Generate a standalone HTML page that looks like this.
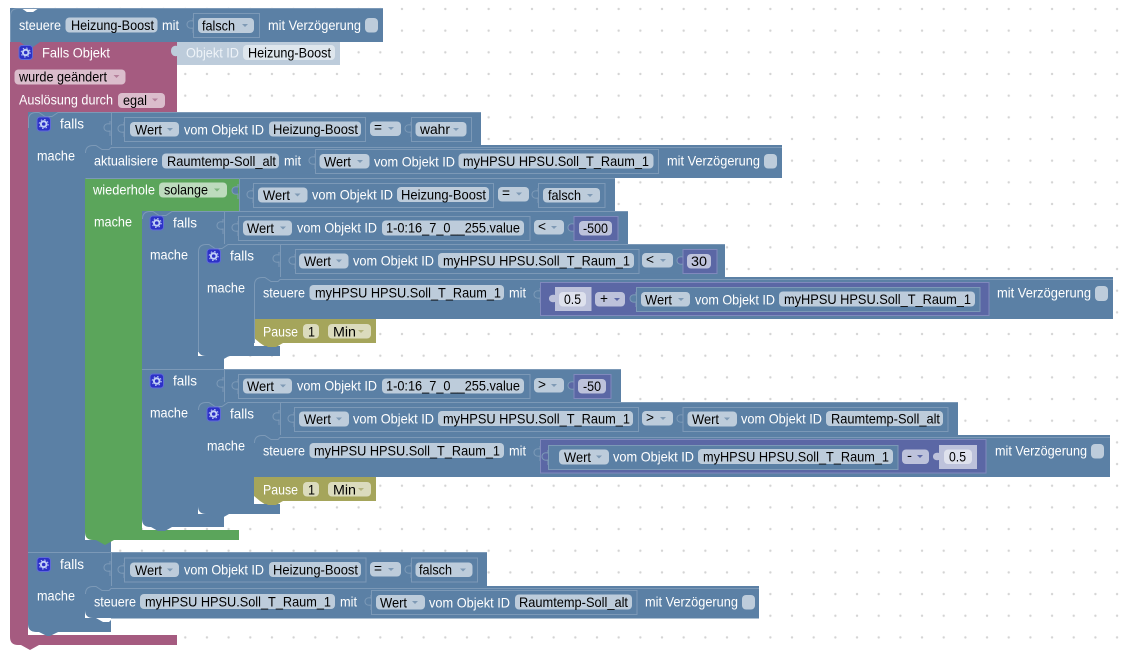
<!DOCTYPE html>
<html><head><meta charset="utf-8"><style>
html,body{margin:0;padding:0;background:#fff;width:1126px;height:653px;overflow:hidden}
svg{display:block}
text{font-family:"Liberation Sans",Arial,sans-serif;font-size:14px;fill:#000;white-space:pre}
.t{fill:#fff}
.o{fill:#eef3f8}
.b{fill:#5b80a5}.g{fill:#5ba55b}.m{fill:#a55b80}.y{fill:#a5a55b}.p{fill:#5b67a5}
.f{fill:#bdccdb}.fg{fill:#bddbbd}.fm{fill:#dbbdcc}.fy{fill:#dbdbbd}.fp{fill:#bdc2db}.fl{fill:#dee1ed}
.v{fill:#5b80a5;stroke:#7c99b7;stroke-width:1}
.vp{fill:#5b67a5;stroke:#8089bd;stroke-width:1}
.l{fill:none;stroke:#7c99b7;stroke-width:1}
.w{fill:#fff}
.tab{stroke:#7c99b7;stroke-width:1}
.ab{fill:#7f9ab5}.ag{fill:#7fb57f}.am{fill:#b5819c}.ay{fill:#b5b57f}
</style></head><body>
<svg width="1126" height="653" viewBox="0 0 1126 653" xmlns="http://www.w3.org/2000/svg">
<defs>
<pattern id="dots" x="1.07" y="-1.83" width="21.67" height="21.67" patternUnits="userSpaceOnUse"><circle cx="10.83" cy="10.83" r="1.2" fill="#d4d4d4"/></pattern>
<path id="tab" d="M0 0V3C-8 1-8 12 0 10V15"/>
<path id="ar" d="M0 0h6l-3 3z"/>
<g id="ic"><rect x=".5" y=".5" width="13.500" height="14" rx="3" fill="#2c31c7" stroke="#5f6bd8"/><circle cx="7.200" cy="7.500" r="2.800" fill="none" stroke="#c2d0f7" stroke-width="2"/><circle cx="7.200" cy="7.500" r="4.500" fill="none" stroke="#c2d0f7" stroke-width="1" stroke-dasharray="1.400 2.200"/></g>
</defs>
<rect width="1126" height="653" fill="#fff"/>
<rect width="1126" height="653" fill="url(#dots)"/>

<!-- maroon trigger -->
<path class="m" d="M10 42H177V112H28V635H177V645H39L30 650 21 645H18Q10 645 10 637Z"/>
<!-- Objekt ID -->
<rect x="177" y="42" width="163" height="23" class="f"/>
<path d="M177 46C169 44 169 58 177 56Z" class="f"/>
<rect x="243" y="45" width="92" height="15" rx="4" fill="#dee6ed"/>
<!-- steuere top -->
<path class="b" d="M10 8H21L27 12H33L39 8H383V42H40L33 47H27L20 42H10Z"/>
<path class="w" d="M22 8L27 12H33L38 8Z"/>

<!-- falls A -->
<rect class="b" x="28" y="112" width="453" height="33"/>
<rect class="b" x="28" y="112" width="57" height="440"/>
<rect class="b" x="85" y="145" width="26" height="407"/>
<!-- aktualisiere -->
<rect class="b" x="85" y="145" width="697" height="33"/>
<!-- green loop -->
<rect class="b" x="239" y="178" width="376" height="33"/>
<path class="g" d="M85 178H239V211H142V530H239V540H114L105 545 96 540H93Q85 540 85 532Z"/>
<path class="w" d="M85 532Q85 540 93 540H85Z"/>
<!-- falls C -->
<rect class="b" x="142" y="211" width="486" height="33"/>
<rect class="b" x="142" y="211" width="56" height="316"/>
<rect class="b" x="198" y="244" width="26" height="283"/>
<rect class="b" x="142" y="369" width="479" height="33"/>
<path class="b" d="M142 520V519Q142 527 150 527H151L158 531H165L172 527H224V520Z"/>
<path class="w" d="M142 519Q142 527 150 527H142Z"/>
<!-- falls D -->
<rect class="b" x="198" y="244" width="527" height="33"/>
<rect class="b" x="198" y="244" width="56" height="108"/>
<rect class="b" x="254" y="277" width="26" height="79"/>
<path class="b" d="M198 348Q198 356 206 356H209L216 360H222L229 356H280V345H198Z"/>
<path class="w" d="M198 348Q198 356 206 356H198Z"/>
<!-- steuere D -->
<rect class="b" x="254" y="277" width="859" height="42"/>
<!-- pause D -->
<path class="w" d="M254 319H280V346H254Z"/>
<path class="y" d="M254 319H376V343H282L276 347H266L260 343 254 338Z"/>
<path class="b" d="M254 346H280V356H254Z"/>
<path class="y" d="M262 343H283L276 347H268Z"/>
<!-- falls D2 -->
<rect class="b" x="198" y="402" width="760" height="33"/>
<rect class="b" x="198" y="402" width="56" height="108"/>
<rect class="b" x="254" y="435" width="26" height="79"/>
<path class="b" d="M198 506Q198 514 206 514H209L216 518H222L229 514H280V503H198Z"/>
<path class="w" d="M198 506Q198 514 206 514H198Z"/>
<!-- steuere E -->
<rect class="b" x="254" y="435" width="856" height="42"/>
<!-- pause E -->
<path class="w" d="M254 477H280V504H254Z"/>
<path class="y" d="M254 477H376V501H282L276 505H266L260 501 254 496Z"/>
<path class="b" d="M254 504H280V514H254Z"/>
<path class="y" d="M262 501H283L276 505H268Z"/>

<!-- falls B -->
<rect class="b" x="28" y="552" width="459" height="34"/>
<rect class="b" x="28" y="552" width="57" height="76"/>
<rect class="b" x="85" y="586" width="26" height="33"/>
<rect class="b" x="85" y="586" width="674" height="32.500"/>
<path class="w" d="M85 618H111V622.500H85Z"/>
<path class="b" d="M85 610Q85 618 93 618H96L103 622H109L111 620V623H85Z"/>
<path class="w" d="M85 610Q85 618 93 618H85Z"/>
<path class="b" d="M28 622H111V632H58L49 636 40 632H36Q28 632 28 624Z"/>
<path class="w" d="M28 624Q28 632 36 632H28Z"/>
<path class="w" d="M28 632H39L48 636 58 632H177V635H28Z"/>
<path class="b" d="M39 632H58L50 636H47Z"/>

<!-- light edges -->
<path class="l" d="M28.500 128V120Q28.500 112.500 36 112.500H39L45 116.500H52L58 112.500H481"/>
<path class="l" d="M111.500 112.500V145"/>
<path class="l" d="M85.500 153Q85.500 145.500 93 145.500H96L102 149.500H109L111 147.500H782M85.500 178.500H239"/>
<path class="l" d="M239.500 178.500H615M239.500 178.500V211"/>
<path class="l" d="M142.500 219Q142.500 211.500 150 211.500H153L159 215.500H166L172 211.500H628M224.500 211.500V244"/>
<path class="l" d="M198.500 252Q198.500 244.500 206 244.500H209L215 248.500H222L228 244.500H725M280.500 244.500V277"/>
<path class="l" d="M254.500 285Q254.500 277.500 262 277.500H265L271 281.500H278L280 279.500H1113"/>
<path class="l" d="M142 369.500H621M224.500 369.500V402"/>
<path class="l" d="M198.500 410Q198.500 402.500 206 402.500H209L215 406.500H222L228 402.500H958M280.500 402.500V435"/>
<path class="l" d="M254.500 443Q254.500 435.500 262 435.500H265L271 439.500H278L280 437.500H1110"/>
<path class="l" d="M28 552.500H487M111.500 552.500V586"/>
<path class="l" d="M85.500 594Q85.500 586.500 93 586.500H96L102 590.500H109L111 588.500H759"/>
<path class="l" d="M198.500 352V252"/>
<path class="l" d="M254.500 343V285"/>
<path d="M10.500 42V16Q10.500 8.500 18 8.500H383" fill="none" stroke="#7c99b7"/>

<!-- ===== row 0 ===== -->
<text class="t" x="19" y="30" textLength="42" lengthAdjust="spacingAndGlyphs">steuere</text>
<rect class="f" x="65.500" y="17.500" width="92" height="15" rx="4"/><text x="71" y="30" textLength="83" lengthAdjust="spacingAndGlyphs">Heizung-Boost</text>
<text class="t" x="162" y="30" textLength="17" lengthAdjust="spacingAndGlyphs">mit</text>
<use href="#tab" x="193" y="18" class="b tab"/>
<rect class="v" x="193.500" y="13.500" width="66" height="24"/>
<rect class="f" x="198" y="18" width="56" height="15" rx="4"/><text x="202" y="30.500" textLength="33" lengthAdjust="spacingAndGlyphs">falsch</text><use href="#ar" x="242" y="24" class="ab"/>
<text class="t" x="268" y="30" textLength="93" lengthAdjust="spacingAndGlyphs">mit Verzögerung</text>
<rect class="f" x="365" y="18" width="13" height="14.500" rx="4"/>

<!-- trigger -->
<use href="#ic" x="18.500" y="45"/>
<text class="t" x="42" y="57.500" textLength="68" lengthAdjust="spacingAndGlyphs">Falls Objekt</text>
<text class="o" x="186" y="57.500" textLength="53" lengthAdjust="spacingAndGlyphs">Objekt ID</text>
<text x="248" y="57.500" textLength="83" lengthAdjust="spacingAndGlyphs">Heizung-Boost</text>
<rect class="fm" x="14.500" y="69.500" width="111" height="15" rx="4"/><text x="19" y="81.500" textLength="88" lengthAdjust="spacingAndGlyphs">wurde geändert</text><use href="#ar" x="113.500" y="75" class="am"/>
<text class="t" x="19" y="104.500" textLength="94" lengthAdjust="spacingAndGlyphs">Auslösung durch</text>
<rect class="fm" x="118" y="93" width="47" height="15" rx="4"/><text x="123" y="105" textLength="24" lengthAdjust="spacingAndGlyphs">egal</text><use href="#ar" x="152" y="98.500" class="am"/>

<!-- ===== falls A row ===== -->
<use href="#ic" x="36.500" y="116.500"/>
<text class="t" x="60" y="128.500" textLength="24" lengthAdjust="spacingAndGlyphs">falls</text>
<text class="t" x="37" y="160.500" textLength="38" lengthAdjust="spacingAndGlyphs">mache</text>
<use href="#tab" x="110" y="121" class="b tab"/>
<use href="#tab" x="124" y="122" class="b tab"/>
<rect class="v" x="124.500" y="117.500" width="241" height="24"/>
<rect class="f" x="130" y="122" width="49" height="14.500" rx="4"/><text x="135" y="134.500" textLength="27" lengthAdjust="spacingAndGlyphs">Wert</text><use href="#ar" x="167" y="128" class="ab"/>
<text class="t" x="184" y="134.500" textLength="80" lengthAdjust="spacingAndGlyphs">vom Objekt ID</text>
<rect class="f" x="269" y="121.500" width="92" height="15" rx="4"/><text x="273" y="134" textLength="85" lengthAdjust="spacingAndGlyphs">Heizung-Boost</text>
<rect class="f" x="370" y="121.500" width="31" height="14.500" rx="4"/><text x="374" y="132" textLength="8" lengthAdjust="spacingAndGlyphs">=</text><use href="#ar" x="388" y="127" class="ab"/>
<use href="#tab" x="411" y="122" class="b tab"/>
<rect class="v" x="411.500" y="117.500" width="60" height="24"/>
<rect class="f" x="415.500" y="122" width="51" height="14.500" rx="4"/><text x="420" y="134" textLength="30" lengthAdjust="spacingAndGlyphs">wahr</text><use href="#ar" x="453" y="128" class="ab"/>

<!-- aktualisiere -->
<text class="t" x="94" y="165.500" textLength="64" lengthAdjust="spacingAndGlyphs">aktualisiere</text>
<rect class="f" x="162" y="153.500" width="117" height="15" rx="4"/><text x="167" y="166" textLength="109" lengthAdjust="spacingAndGlyphs">Raumtemp-Soll_alt</text>
<text class="t" x="284" y="165.500" textLength="17" lengthAdjust="spacingAndGlyphs">mit</text>
<use href="#tab" x="315" y="154" class="b tab"/>
<rect class="v" x="315.500" y="149.500" width="343" height="24"/>
<rect class="f" x="319.500" y="154" width="50" height="14.500" rx="4"/><text x="324" y="166.500" textLength="27" lengthAdjust="spacingAndGlyphs">Wert</text><use href="#ar" x="357" y="160" class="ab"/>
<text class="t" x="374" y="166.500" textLength="81" lengthAdjust="spacingAndGlyphs">vom Objekt ID</text>
<rect class="f" x="458.500" y="153.500" width="195" height="15" rx="4"/><text x="463" y="166" textLength="186" lengthAdjust="spacingAndGlyphs">myHPSU HPSU.Soll_T_Raum_1</text>
<text class="t" x="667" y="165.500" textLength="93" lengthAdjust="spacingAndGlyphs">mit Verzögerung</text>
<rect class="f" x="764" y="154" width="13" height="14.500" rx="4"/>

<!-- wiederhole -->
<text class="t" x="93" y="194.500" textLength="62" lengthAdjust="spacingAndGlyphs">wiederhole</text>
<rect class="fg" x="159" y="182.500" width="68" height="15" rx="4"/><text x="164" y="194.500" textLength="44" lengthAdjust="spacingAndGlyphs">solange</text><use href="#ar" x="214" y="188.500" class="ag"/>
<text class="t" x="94" y="226.500" textLength="38" lengthAdjust="spacingAndGlyphs">mache</text>
<use href="#tab" x="238" y="184" class="b tab"/>
<use href="#tab" x="253" y="188" class="b tab"/>
<rect class="v" x="253.500" y="183.500" width="240" height="24"/>
<rect class="f" x="258" y="187.500" width="49.500" height="15" rx="4"/><text x="263" y="200" textLength="27" lengthAdjust="spacingAndGlyphs">Wert</text><use href="#ar" x="294.500" y="193.500" class="ab"/>
<text class="t" x="312" y="199.500" textLength="81" lengthAdjust="spacingAndGlyphs">vom Objekt ID</text>
<rect class="f" x="397" y="187" width="92" height="15" rx="4"/><text x="401" y="199.500" textLength="85" lengthAdjust="spacingAndGlyphs">Heizung-Boost</text>
<rect class="f" x="498" y="187" width="31" height="14.500" rx="4"/><text x="502" y="197.500" textLength="8" lengthAdjust="spacingAndGlyphs">=</text><use href="#ar" x="516" y="192.500" class="ab"/>
<use href="#tab" x="538" y="188" class="b tab"/>
<rect class="v" x="538.500" y="183.500" width="66.500" height="24"/>
<rect class="f" x="543" y="188" width="57" height="14.500" rx="4"/><text x="548" y="200" textLength="33" lengthAdjust="spacingAndGlyphs">falsch</text><use href="#ar" x="587" y="194" class="ab"/>

<!-- falls C -->
<use href="#ic" x="149.500" y="215.500"/>
<text class="t" x="173" y="227.500" textLength="24" lengthAdjust="spacingAndGlyphs">falls</text>
<text class="t" x="150" y="259.500" textLength="38" lengthAdjust="spacingAndGlyphs">mache</text>
<use href="#tab" x="223" y="219" class="b tab"/>
<use href="#tab" x="238" y="221" class="b tab"/>
<rect class="v" x="238.500" y="216.500" width="291.500" height="24"/>
<rect class="f" x="243" y="220.500" width="49" height="15" rx="4"/><text x="247" y="233" textLength="27" lengthAdjust="spacingAndGlyphs">Wert</text><use href="#ar" x="280" y="226.500" class="ab"/>
<text class="t" x="297" y="232.500" textLength="80" lengthAdjust="spacingAndGlyphs">vom Objekt ID</text>
<rect class="f" x="382" y="220.500" width="142" height="15" rx="4"/><text x="386" y="232.500" textLength="134" lengthAdjust="spacingAndGlyphs">1-0:16_7_0__255.value</text>
<rect class="f" x="534" y="220" width="30" height="14.500" rx="4"/><text x="538" y="231" textLength="8" lengthAdjust="spacingAndGlyphs">&lt;</text><use href="#ar" x="551" y="226" class="ab"/>
<use href="#tab" x="574" y="221" class="p tab"/>
<rect class="vp" x="574" y="216.500" width="44" height="24"/>
<rect class="fp" x="579" y="221" width="33" height="14.500" rx="4"/><text x="583" y="233" textLength="25" lengthAdjust="spacingAndGlyphs">-500</text>

<!-- falls D -->
<use href="#ic" x="206.500" y="248.500"/>
<text class="t" x="230" y="260.500" textLength="24" lengthAdjust="spacingAndGlyphs">falls</text>
<text class="t" x="207" y="292.500" textLength="38" lengthAdjust="spacingAndGlyphs">mache</text>
<use href="#tab" x="279" y="252" class="b tab"/>
<use href="#tab" x="295" y="254" class="b tab"/>
<rect class="v" x="295.500" y="249.500" width="343.500" height="24"/>
<rect class="f" x="299" y="253.500" width="49.500" height="15" rx="4"/><text x="304" y="266" textLength="27" lengthAdjust="spacingAndGlyphs">Wert</text><use href="#ar" x="336" y="259.500" class="ab"/>
<text class="t" x="353" y="265.500" textLength="81" lengthAdjust="spacingAndGlyphs">vom Objekt ID</text>
<rect class="f" x="438" y="253" width="196" height="15" rx="4"/><text x="443" y="265.500" textLength="187" lengthAdjust="spacingAndGlyphs">myHPSU HPSU.Soll_T_Raum_1</text>
<rect class="f" x="642" y="253" width="31" height="14.500" rx="4"/><text x="646" y="264" textLength="8" lengthAdjust="spacingAndGlyphs">&lt;</text><use href="#ar" x="660" y="259" class="ab"/>
<use href="#tab" x="683" y="254" class="p tab"/>
<rect class="vp" x="683" y="249.500" width="34" height="24"/>
<rect class="fp" x="687" y="254" width="24" height="14.500" rx="4"/><text x="691" y="266" textLength="16" lengthAdjust="spacingAndGlyphs">30</text>

<!-- steuere D -->
<text class="t" x="263" y="297.500" textLength="42" lengthAdjust="spacingAndGlyphs">steuere</text>
<rect class="f" x="309.500" y="285" width="194.500" height="15" rx="4"/><text x="315" y="297.500" textLength="186" lengthAdjust="spacingAndGlyphs">myHPSU HPSU.Soll_T_Raum_1</text>
<text class="t" x="509" y="297.500" textLength="17" lengthAdjust="spacingAndGlyphs">mit</text>
<use href="#tab" x="540" y="288" class="b tab"/>
<rect class="vp" x="540.500" y="282.500" width="448.500" height="33"/>
<use href="#tab" x="555" y="292" class="fp"/>
<rect class="fp" x="555" y="287" width="36.500" height="24"/>
<rect class="fl" x="559" y="292" width="27" height="14.500" rx="4"/><text x="564" y="304" textLength="17" lengthAdjust="spacingAndGlyphs">0.5</text>
<rect class="fp" x="595" y="292" width="30" height="14.500" rx="4"/><text x="600" y="303" textLength="8" lengthAdjust="spacingAndGlyphs">+</text><use href="#ar" x="614" y="298" class="p"/>
<use href="#tab" x="636" y="292" class="b tab"/>
<rect class="v" x="636.500" y="287.500" width="343.500" height="24"/>
<rect class="f" x="641" y="292" width="49" height="14.500" rx="4"/><text x="645" y="304.500" textLength="27" lengthAdjust="spacingAndGlyphs">Wert</text><use href="#ar" x="678" y="298" class="ab"/>
<text class="t" x="695" y="304.500" textLength="80" lengthAdjust="spacingAndGlyphs">vom Objekt ID</text>
<rect class="f" x="779" y="291.500" width="196" height="15" rx="4"/><text x="784" y="304" textLength="187" lengthAdjust="spacingAndGlyphs">myHPSU HPSU.Soll_T_Raum_1</text>
<text class="t" x="997" y="297.500" textLength="94" lengthAdjust="spacingAndGlyphs">mit Verzögerung</text>
<rect class="f" x="1095" y="286" width="13" height="15" rx="4"/>

<!-- pause D -->
<text class="t" x="263" y="336.500" textLength="35" lengthAdjust="spacingAndGlyphs">Pause</text>
<rect class="fy" x="303" y="324" width="16" height="14.500" rx="4"/><text x="308" y="336.500" textLength="7" lengthAdjust="spacingAndGlyphs">1</text>
<rect class="fy" x="328" y="324" width="43" height="14.500" rx="4"/><text x="333" y="336.500" textLength="23" lengthAdjust="spacingAndGlyphs">Min</text><use href="#ar" x="358" y="330" class="ay"/>

<!-- falls C2 -->
<use href="#ic" x="149.500" y="373.500"/>
<text class="t" x="173" y="385.500" textLength="24" lengthAdjust="spacingAndGlyphs">falls</text>
<text class="t" x="150" y="417.500" textLength="38" lengthAdjust="spacingAndGlyphs">mache</text>
<use href="#tab" x="223" y="377" class="b tab"/>
<use href="#tab" x="238" y="379" class="b tab"/>
<rect class="v" x="238.500" y="374.500" width="291.500" height="24"/>
<rect class="f" x="243" y="378.500" width="49" height="15" rx="4"/><text x="247" y="391" textLength="27" lengthAdjust="spacingAndGlyphs">Wert</text><use href="#ar" x="280" y="384.500" class="ab"/>
<text class="t" x="297" y="390.500" textLength="80" lengthAdjust="spacingAndGlyphs">vom Objekt ID</text>
<rect class="f" x="382" y="378.500" width="142" height="15" rx="4"/><text x="386" y="390.500" textLength="134" lengthAdjust="spacingAndGlyphs">1-0:16_7_0__255.value</text>
<rect class="f" x="534" y="378" width="30" height="14.500" rx="4"/><text x="538" y="389" textLength="8" lengthAdjust="spacingAndGlyphs">&gt;</text><use href="#ar" x="551" y="384" class="ab"/>
<use href="#tab" x="574" y="379" class="p tab"/>
<rect class="vp" x="574" y="374.500" width="37" height="24"/>
<rect class="fp" x="578" y="379" width="28" height="14.500" rx="4"/><text x="583" y="391" textLength="18" lengthAdjust="spacingAndGlyphs">-50</text>

<!-- falls D2 -->
<use href="#ic" x="206.500" y="406.500"/>
<text class="t" x="230" y="418.500" textLength="24" lengthAdjust="spacingAndGlyphs">falls</text>
<text class="t" x="207" y="450.500" textLength="38" lengthAdjust="spacingAndGlyphs">mache</text>
<use href="#tab" x="279" y="410" class="b tab"/>
<use href="#tab" x="294" y="412" class="b tab"/>
<rect class="v" x="294.500" y="407.500" width="344" height="24"/>
<rect class="f" x="299" y="411.500" width="50" height="15" rx="4"/><text x="304" y="424" textLength="27" lengthAdjust="spacingAndGlyphs">Wert</text><use href="#ar" x="336" y="417.500" class="ab"/>
<text class="t" x="353" y="423.500" textLength="81" lengthAdjust="spacingAndGlyphs">vom Objekt ID</text>
<rect class="f" x="438" y="411" width="195" height="15" rx="4"/><text x="443" y="423.500" textLength="187" lengthAdjust="spacingAndGlyphs">myHPSU HPSU.Soll_T_Raum_1</text>
<rect class="f" x="642" y="411" width="31" height="14.500" rx="4"/><text x="646" y="422" textLength="8" lengthAdjust="spacingAndGlyphs">&gt;</text><use href="#ar" x="660" y="417" class="ab"/>
<use href="#tab" x="683" y="412" class="b tab"/>
<rect class="v" x="683" y="407.500" width="265" height="24"/>
<rect class="f" x="687.500" y="411.500" width="49.500" height="15" rx="4"/><text x="692" y="424" textLength="27" lengthAdjust="spacingAndGlyphs">Wert</text><use href="#ar" x="724" y="417.500" class="ab"/>
<text class="t" x="741" y="423.500" textLength="81" lengthAdjust="spacingAndGlyphs">vom Objekt ID</text>
<rect class="f" x="826" y="411" width="117" height="15" rx="4"/><text x="831" y="423.500" textLength="109" lengthAdjust="spacingAndGlyphs">Raumtemp-Soll_alt</text>

<!-- steuere E -->
<text class="t" x="263" y="455.500" textLength="42" lengthAdjust="spacingAndGlyphs">steuere</text>
<rect class="f" x="309.500" y="443" width="194.500" height="15" rx="4"/><text x="314" y="455.500" textLength="186" lengthAdjust="spacingAndGlyphs">myHPSU HPSU.Soll_T_Raum_1</text>
<text class="t" x="509" y="455.500" textLength="17" lengthAdjust="spacingAndGlyphs">mit</text>
<use href="#tab" x="540" y="446" class="b tab"/>
<rect class="vp" x="540.500" y="439.500" width="445.500" height="33.500"/>
<use href="#tab" x="548" y="450" class="p tab"/>
<rect class="v" x="548.500" y="445.500" width="349.500" height="24"/>
<rect class="f" x="559" y="449.500" width="50" height="15" rx="4"/><text x="564" y="462" textLength="27" lengthAdjust="spacingAndGlyphs">Wert</text><use href="#ar" x="596" y="455.500" class="ab"/>
<text class="t" x="613" y="461.500" textLength="81" lengthAdjust="spacingAndGlyphs">vom Objekt ID</text>
<rect class="f" x="698" y="449" width="195" height="15" rx="4"/><text x="703" y="461.500" textLength="186" lengthAdjust="spacingAndGlyphs">myHPSU HPSU.Soll_T_Raum_1</text>
<rect class="fp" x="902" y="449.500" width="27" height="14.500" rx="4"/><text x="907" y="460" textLength="5" lengthAdjust="spacingAndGlyphs">-</text><use href="#ar" x="917" y="455" class="p"/>
<use href="#tab" x="939" y="450" class="fp"/>
<rect class="fp" x="939" y="445" width="38" height="24"/>
<rect class="fl" x="944" y="449.500" width="28" height="14.500" rx="4"/><text x="949" y="461.500" textLength="17" lengthAdjust="spacingAndGlyphs">0.5</text>
<text class="t" x="995" y="455.500" textLength="92" lengthAdjust="spacingAndGlyphs">mit Verzögerung</text>
<rect class="f" x="1091" y="444" width="13" height="14.500" rx="4"/>

<!-- pause E -->
<text class="t" x="263" y="494.500" textLength="35" lengthAdjust="spacingAndGlyphs">Pause</text>
<rect class="fy" x="303" y="482" width="16" height="14.500" rx="4"/><text x="308" y="494.500" textLength="7" lengthAdjust="spacingAndGlyphs">1</text>
<rect class="fy" x="328" y="482" width="43" height="14.500" rx="4"/><text x="333" y="494.500" textLength="23" lengthAdjust="spacingAndGlyphs">Min</text><use href="#ar" x="358" y="488" class="ay"/>

<!-- falls B -->
<use href="#ic" x="36.500" y="557"/>
<text class="t" x="60" y="569" textLength="24" lengthAdjust="spacingAndGlyphs">falls</text>
<text class="t" x="37" y="600.500" textLength="38" lengthAdjust="spacingAndGlyphs">mache</text>
<use href="#tab" x="110" y="561" class="b tab"/>
<use href="#tab" x="124" y="563" class="b tab"/>
<rect class="v" x="124.500" y="558" width="241.500" height="24"/>
<rect class="f" x="130" y="562.500" width="49" height="14.500" rx="4"/><text x="135" y="575" textLength="27" lengthAdjust="spacingAndGlyphs">Wert</text><use href="#ar" x="167" y="568.500" class="ab"/>
<text class="t" x="184" y="574.500" textLength="80" lengthAdjust="spacingAndGlyphs">vom Objekt ID</text>
<rect class="f" x="269" y="562" width="92" height="15" rx="4"/><text x="273" y="574.500" textLength="85" lengthAdjust="spacingAndGlyphs">Heizung-Boost</text>
<rect class="f" x="370" y="562" width="31" height="14.500" rx="4"/><text x="374" y="573" textLength="8" lengthAdjust="spacingAndGlyphs">=</text><use href="#ar" x="388" y="568" class="ab"/>
<use href="#tab" x="411" y="563" class="b tab"/>
<rect class="v" x="411.500" y="558" width="66" height="24"/>
<rect class="f" x="415.500" y="562.500" width="57" height="14.500" rx="4"/><text x="419" y="574.500" textLength="33" lengthAdjust="spacingAndGlyphs">falsch</text><use href="#ar" x="460" y="568.500" class="ab"/>

<!-- steuere F -->
<text class="t" x="94" y="606.500" textLength="42" lengthAdjust="spacingAndGlyphs">steuere</text>
<rect class="f" x="140" y="594" width="195" height="15" rx="4"/><text x="145" y="606.500" textLength="186" lengthAdjust="spacingAndGlyphs">myHPSU HPSU.Soll_T_Raum_1</text>
<text class="t" x="340" y="606.500" textLength="17" lengthAdjust="spacingAndGlyphs">mit</text>
<use href="#tab" x="371" y="595" class="b tab"/>
<rect class="v" x="371.500" y="590.500" width="265.500" height="24"/>
<rect class="f" x="376" y="595" width="49" height="14.500" rx="4"/><text x="380" y="607.500" textLength="27" lengthAdjust="spacingAndGlyphs">Wert</text><use href="#ar" x="412" y="601" class="ab"/>
<text class="t" x="429" y="607.500" textLength="81" lengthAdjust="spacingAndGlyphs">vom Objekt ID</text>
<rect class="f" x="515" y="594.500" width="117" height="15" rx="4"/><text x="519" y="607" textLength="109" lengthAdjust="spacingAndGlyphs">Raumtemp-Soll_alt</text>
<text class="t" x="645" y="606.500" textLength="93" lengthAdjust="spacingAndGlyphs">mit Verzögerung</text>
<rect class="f" x="742" y="595" width="13" height="14.500" rx="4"/>
</svg>
</body></html>
